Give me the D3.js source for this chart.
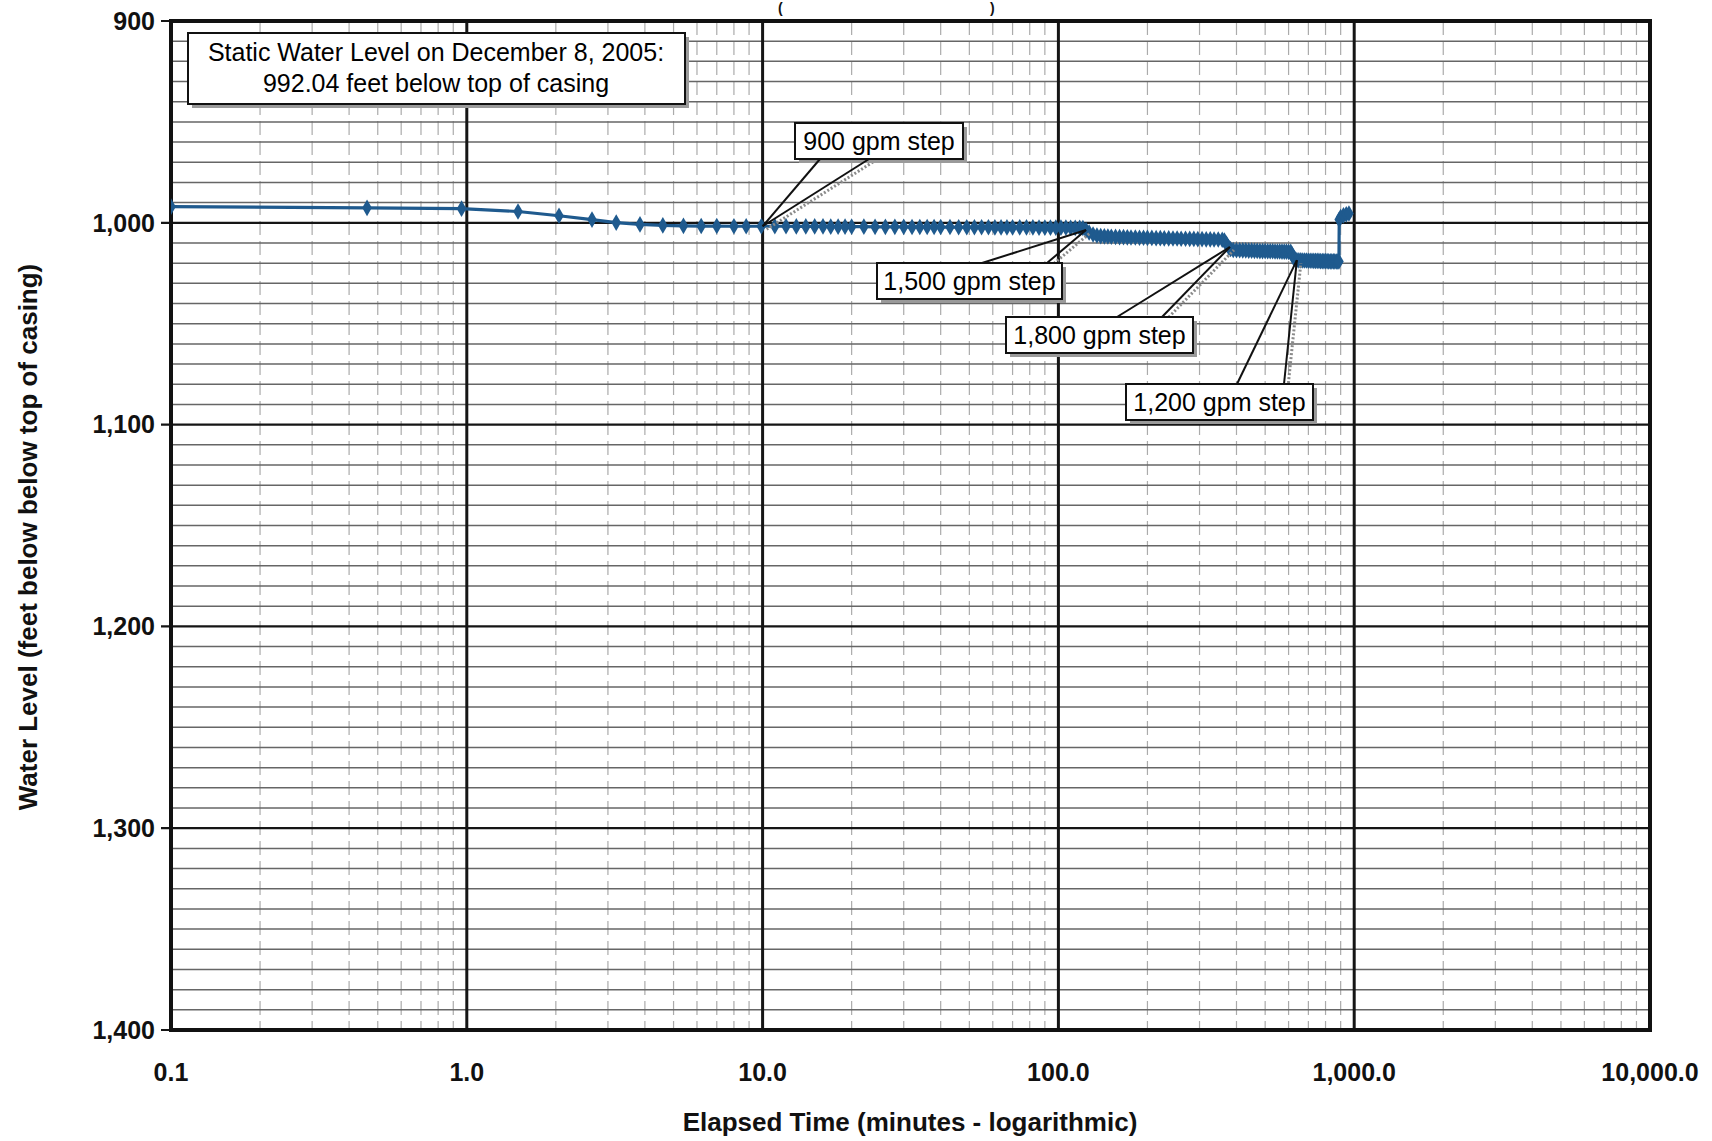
<!DOCTYPE html>
<html lang="en">
<head>
    <meta charset="UTF-8">
    <title>Step Drawdown - Water Level vs Elapsed Time</title>
    <style>
        body {
            margin: 0;
            padding: 0;
            background-color: #fff;
            font-family: 'Liberation Sans', Arial, sans-serif;
        }
        .tick-label {
            font-weight: bold;
            font-size: 25px;
            fill: #111;
        }
        .axis-title {
            font-weight: bold;
            font-size: 26px;
            fill: #111;
        }
        .note {
            font-size: 25px;
            fill: #000;
        }
    </style>
</head>
<body>
    <svg id="chart"></svg>

    <script src="https://d3js.org/d3.v7.min.js"></script>
    <script>
        // Data: elapsed time (minutes) and water level (feet below top of casing)
        const timeMin = [
            0.1, 0.46, 0.96, 1.49, 2.05, 2.65, 3.2, 3.85, 4.6, 5.4, 6.2, 7.0, 8.0, 8.8, 9.9,
            11, 12, 13, 14, 15, 16, 17, 18, 19, 20, 22, 24, 26, 28, 30, 32, 34, 36, 38, 40,
            43, 46, 49, 52, 55, 58, 61, 64, 67, 70, 74, 78, 82, 86, 90, 94, 98, 102, 106, 110,
            114, 118, 121,
            124, 127, 131, 135, 139, 143, 147, 151, 156, 161, 166, 171, 176, 182, 188, 194, 200,
            207, 214, 221, 228, 236, 244, 252, 260, 269, 278, 287, 296, 306, 316, 326, 336, 347, 358,
            364, 370, 376, 382, 390,
            400, 410, 420, 430, 440, 450, 460, 470, 480, 490, 500, 510, 520, 530, 540, 550, 560,
            570, 580, 590, 600, 610,
            617, 624, 632, 640,
            650, 660, 670, 680, 690, 700, 710, 720, 730, 740, 750, 760, 770, 780, 790, 800, 810,
            820, 830, 840, 850, 860, 870, 880, 888,
            890, 900, 920, 940, 960
        ];
        const levelFt = [
            992.0, 992.6, 993.0, 994.4, 996.5, 998.4, 999.9, 1000.8, 1001.3, 1001.5, 1001.6, 1001.6, 1001.7, 1001.7, 1001.7,
            1001.7, 1001.7, 1001.8, 1001.8, 1001.8, 1001.8, 1001.9, 1001.9, 1001.9, 1001.9, 1001.9, 1002.0, 1002.0, 1002.0, 1002.0, 1002.1, 1002.1, 1002.1, 1002.1, 1002.1,
            1002.1, 1002.2, 1002.2, 1002.2, 1002.2, 1002.2, 1002.3, 1002.3, 1002.3, 1002.3, 1002.3, 1002.3, 1002.3, 1002.4, 1002.4, 1002.4, 1002.4, 1002.4, 1002.4, 1002.5,
            1002.5, 1002.5, 1002.6,
            1003.6, 1004.8, 1005.8, 1006.3, 1006.6, 1006.7, 1006.8, 1006.9, 1007.0, 1007.1, 1007.1, 1007.2, 1007.3, 1007.3, 1007.4, 1007.4, 1007.5,
            1007.5, 1007.6, 1007.6, 1007.7, 1007.7, 1007.8, 1007.8, 1007.9, 1007.9, 1008.0, 1008.0, 1008.1, 1008.1, 1008.2, 1008.2, 1008.3, 1008.3, 1008.4,
            1008.8, 1010.4, 1012.0, 1013.0, 1013.5,
            1013.6, 1013.6, 1013.7, 1013.7, 1013.8, 1013.8, 1013.9, 1013.9, 1014.0, 1014.0, 1014.0, 1014.1, 1014.1, 1014.1, 1014.2, 1014.2, 1014.2,
            1014.3, 1014.3, 1014.3, 1014.4, 1014.4,
            1015.8, 1017.4, 1018.2, 1018.5,
            1018.6, 1018.6, 1018.7, 1018.7, 1018.7, 1018.8, 1018.8, 1018.8, 1018.9, 1018.9, 1018.9, 1018.9, 1019.0, 1019.0, 1019.0, 1019.0, 1019.0,
            1019.1, 1019.1, 1019.1, 1019.1, 1019.1, 1019.2, 1019.2, 1019.2,
            998.4, 997.2, 996.3, 995.8, 995.4
        ];

        // Axis ticks
        const xTicks = [0.1, 1, 10, 100, 1000, 10000];
        const xTickLabels = ['0.1', '1.0', '10.0', '100.0', '1,000.0', '10,000.0'];
        const yTicks = [900, 1000, 1100, 1200, 1300, 1400];
        const yTickLabels = ['900', '1,000', '1,100', '1,200', '1,300', '1,400'];

        // Callouts
        const calloutText = ['900 gpm step', '1,500 gpm step', '1,800 gpm step', '1,200 gpm step'];
        const calloutTime = [10, 124, 380, 640];
        const calloutLevel = [1001.7, 1003.6, 1012.0, 1018.5];

        const staticNote = ['Static Water Level on December 8, 2005:', '992.04 feet below top of casing'];

        // Dimensions
        const width = 1712;
        const height = 1141;
        const plot = { left: 171, right: 1650, top: 21, bottom: 1030 };

        const svg = d3.select('#chart')
            .attr('width', width)
            .attr('height', height);

        const x = d3.scaleLog()
            .domain([0.1, 10000])
            .range([plot.left, plot.right]);

        const y = d3.scaleLinear()
            .domain([900, 1400])
            .range([plot.top, plot.bottom]);

        svg.append('defs').append('clipPath')
            .attr('id', 'plot-clip')
            .append('rect')
            .attr('x', plot.left)
            .attr('y', plot.top)
            .attr('width', plot.right - plot.left)
            .attr('height', plot.bottom - plot.top);

        // Minor vertical grid (2..9 in each decade)
        const minorX = [];
        for (let d = 0.1; d < 10000; d *= 10) {
            for (let k = 2; k <= 9; k++) minorX.push(d * k);
        }
        svg.append('g')
            .selectAll('line')
            .data(minorX)
            .enter()
            .append('line')
            .attr('x1', d => x(d))
            .attr('x2', d => x(d))
            .attr('y1', plot.top)
            .attr('y2', plot.bottom)
            .attr('stroke', '#ababab')
            .attr('stroke-width', 1.2)
            .attr('stroke-dasharray', '14,6');

        // Minor horizontal grid every 10 feet
        svg.append('g')
            .selectAll('line')
            .data(d3.range(910, 1400, 10).filter(v => v % 100 !== 0))
            .enter()
            .append('line')
            .attr('x1', plot.left)
            .attr('x2', plot.right)
            .attr('y1', d => y(d))
            .attr('y2', d => y(d))
            .attr('stroke', '#666')
            .attr('stroke-width', 1.5);

        // Major grid
        svg.append('g')
            .selectAll('line')
            .data(yTicks)
            .enter()
            .append('line')
            .attr('x1', plot.left - 10)
            .attr('x2', plot.right)
            .attr('y1', d => y(d))
            .attr('y2', d => y(d))
            .attr('stroke', '#151515')
            .attr('stroke-width', 2.2);

        svg.append('g')
            .selectAll('line')
            .data(xTicks)
            .enter()
            .append('line')
            .attr('x1', d => x(d))
            .attr('x2', d => x(d))
            .attr('y1', plot.top)
            .attr('y2', plot.bottom)
            .attr('stroke', '#151515')
            .attr('stroke-width', 3);

        // Plot border
        svg.append('rect')
            .attr('x', plot.left)
            .attr('y', plot.top)
            .attr('width', plot.right - plot.left)
            .attr('height', plot.bottom - plot.top)
            .attr('fill', 'none')
            .attr('stroke', '#111')
            .attr('stroke-width', 4);

        // Tick labels
        svg.append('g')
            .selectAll('text')
            .data(yTicks)
            .enter()
            .append('text')
            .attr('class', 'tick-label')
            .attr('x', plot.left - 16)
            .attr('y', d => y(d))
            .attr('dy', '0.35em')
            .attr('text-anchor', 'end')
            .text((d, i) => yTickLabels[i]);

        svg.append('g')
            .selectAll('text')
            .data(xTicks)
            .enter()
            .append('text')
            .attr('class', 'tick-label')
            .attr('x', d => x(d))
            .attr('y', 1081)
            .attr('text-anchor', 'middle')
            .text((d, i) => xTickLabels[i]);

        // Axis titles
        svg.append('text')
            .attr('class', 'axis-title')
            .attr('x', 910)
            .attr('y', 1131)
            .attr('text-anchor', 'middle')
            .text('Elapsed Time (minutes - logarithmic)');

        svg.append('text')
            .attr('class', 'axis-title')
            .attr('transform', 'translate(37,537) rotate(-90)')
            .attr('text-anchor', 'middle')
            .text('Water Level (feet below below top of casing)');

        // Remnants of a title cut off at the top of the scan
        svg.append('text')
            .attr('class', 'axis-title')
            .style('font-size', '14px')
            .attr('x', 778)
            .attr('y', 13)
            .text('(');
        svg.append('text')
            .attr('class', 'axis-title')
            .style('font-size', '14px')
            .attr('x', 990)
            .attr('y', 13)
            .text(')');

        // Data series
        const points = timeMin.map((t, i) => ({ t: t, v: levelFt[i] }));
        const series = svg.append('g').attr('clip-path', 'url(#plot-clip)');
        const blue = '#1f5a8e';

        series.append('path')
            .datum(points)
            .attr('fill', 'none')
            .attr('stroke', blue)
            .attr('stroke-width', 3.2)
            .attr('d', d3.line().x(d => x(d.t)).y(d => y(d.v)));

        series.selectAll('.marker')
            .data(points)
            .enter()
            .append('path')
            .attr('class', 'marker')
            .attr('transform', d => `translate(${x(d.t)},${y(d.v)})`)
            .attr('d', d3.symbol(d3.symbolDiamond, 80))
            .attr('fill', blue);

        // Static water level note
        const note = svg.append('g');
        note.append('rect')
            .attr('x', 192).attr('y', 37).attr('width', 497).attr('height', 71)
            .attr('fill', '#9a9a9a');
        note.append('rect')
            .attr('x', 188).attr('y', 33).attr('width', 497).attr('height', 71)
            .attr('fill', '#fff')
            .attr('stroke', '#111')
            .attr('stroke-width', 2);
        note.selectAll('text')
            .data(staticNote)
            .enter()
            .append('text')
            .attr('class', 'note')
            .attr('x', 436)
            .attr('y', (d, i) => 61 + i * 31)
            .attr('text-anchor', 'middle')
            .text(d => d);

        // Callouts: box position and wedge base, tip anchored to the data
        const calloutBox = [
            { x: 795, y: 123, w: 168, h: 36, b1: 820, b2: 869, side: 'bottom' },
            { x: 877, y: 263, w: 185, h: 36, b1: 982, b2: 1047, side: 'top' },
            { x: 1006, y: 317, w: 187, h: 36, b1: 1117, b2: 1162, side: 'top' },
            { x: 1126, y: 384, w: 187, h: 36, b1: 1237, b2: 1284, side: 'top' }
        ];

        calloutBox.forEach((b, i) => {
            const g = svg.append('g');
            const tx = x(calloutTime[i]);
            const ty = y(calloutLevel[i]);
            const by = b.side === 'bottom' ? b.y + b.h : b.y;

            // shadow
            g.append('line')
                .attr('x1', b.b2 + 4).attr('y1', by + 3)
                .attr('x2', tx + 4).attr('y2', ty + 3)
                .attr('stroke', '#8a8a8a').attr('stroke-width', 3)
                .attr('stroke-dasharray', '2,2');
            g.append('rect')
                .attr('x', b.x + 4).attr('y', b.y + 4)
                .attr('width', b.w).attr('height', b.h)
                .attr('fill', '#9a9a9a');

            // wedge
            g.append('line')
                .attr('x1', b.b1).attr('y1', by)
                .attr('x2', tx).attr('y2', ty)
                .attr('stroke', '#111').attr('stroke-width', 2);
            g.append('line')
                .attr('x1', b.b2).attr('y1', by)
                .attr('x2', tx).attr('y2', ty)
                .attr('stroke', '#111').attr('stroke-width', 2);

            g.append('rect')
                .attr('x', b.x).attr('y', b.y)
                .attr('width', b.w).attr('height', b.h)
                .attr('fill', '#fff')
                .attr('stroke', '#111')
                .attr('stroke-width', 2);
            g.append('text')
                .attr('class', 'note')
                .attr('x', b.x + b.w / 2)
                .attr('y', b.y + b.h / 2)
                .attr('dy', '0.36em')
                .attr('text-anchor', 'middle')
                .text(calloutText[i]);
        });
    </script>
</body>
</html>
